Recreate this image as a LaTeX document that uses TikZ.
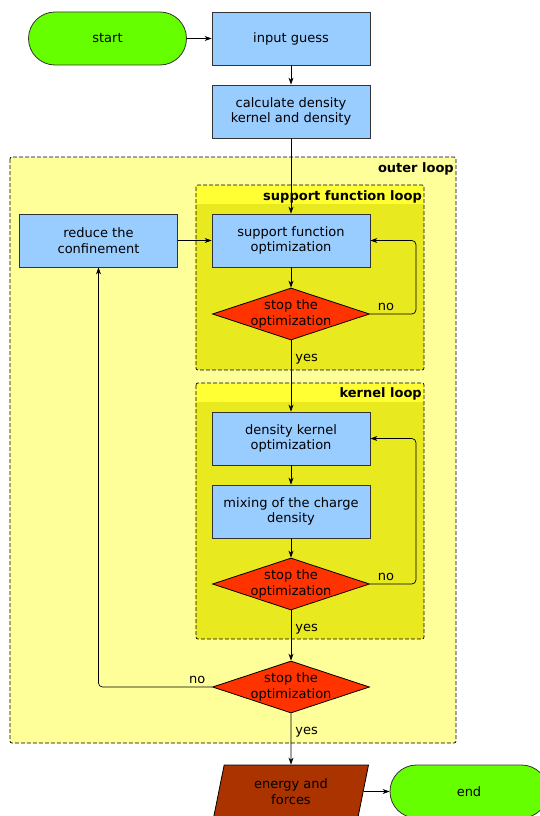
\documentclass[tikz,border=0pt]{standalone}
\usepackage{fontspec}
\setmainfont{DejaVu Sans}
\usetikzlibrary{shapes.geometric,arrows.meta}

\definecolor{termgreen}{HTML}{66FF00}
\definecolor{procblue}{HTML}{99CCFF}
\definecolor{decred}{HTML}{FF3300}
\definecolor{iobrown}{HTML}{AA3300}
\definecolor{outeryellow}{HTML}{FFFF99}
\definecolor{innerolive}{HTML}{E9E920}
\definecolor{stripyellow}{HTML}{FFFF33}
\definecolor{boxline}{HTML}{333333}

\tikzset{
  txt/.style={font=\fontsize{13pt}{15.5pt}\selectfont, align=center},
  process/.style={txt, draw=boxline, line width=0.8pt, fill=procblue,
    minimum width=158pt, minimum height=53pt, inner sep=2pt},
  terminal/.style={process, fill=termgreen, rounded corners=26.5pt},
  decision/.style={txt, diamond, aspect=3, draw, line width=0.8pt, fill=decred,
    minimum width=157pt, minimum height=52pt, inner sep=-4pt},
  iobox/.style={txt, trapezium, trapezium left angle=77, trapezium right angle=103,
    trapezium stretches=true, draw, line width=0.8pt, fill=iobrown,
    minimum width=156pt, minimum height=53pt, inner sep=0pt},
  loopframe/.style={draw, dash pattern=on 4pt off 2pt, line width=0.7pt, rounded corners=2pt},
  looplabel/.style={font=\fontsize{13pt}{15pt}\selectfont\bfseries, anchor=base east, inner sep=0pt},
  flow/.style={-{Stealth[length=7pt,width=5pt]}, line width=0.7pt},
  edgelabel/.style={font=\fontsize{13pt}{15pt}\selectfont, inner sep=0pt}
}

\begin{document}
\begin{tikzpicture}[x=1pt,y=-1pt]
	\useasboundingbox (0,0) rectangle (539,816);

	% loop frames
	\draw[loopframe, fill=outeryellow] (10,157) rectangle (456,743);
	\node[looplabel] (outerlbl) at (454,172) {outer loop};

	\fill[innerolive] (196,185) rectangle (424,370);
	\fill[stripyellow] (196,185) rectangle (424,204);
	\draw[loopframe] (196,185) rectangle (424,370);
	\node[looplabel] (sflbl) at (422,200) {support function loop};

	\fill[innerolive] (196,383) rectangle (424,639);
	\fill[stripyellow] (196,383) rectangle (424,402);
	\draw[loopframe] (196,383) rectangle (424,639);
	\node[looplabel] (klbl) at (422,397) {kernel loop};

	% nodes
	\node[terminal] (start) at (107.5,38.5) {start};
	\node[process] (guess) at (291,38.5) {input guess};
	\node[process] (calc) at (291,111.5) {calculate density\\kernel and density};
	\node[process] (reduce) at (98.5,240.5) {reduce the\\confinement};
	\node[process] (sfopt) at (291,240.5) {support function\\optimization};
	\node[decision] (stopsf) at (291,314) {stop the\\optimization};
	\node[process] (kopt) at (291,438.5) {density kernel\\optimization};
	\node[process] (mixing) at (291,511.5) {mixing of the charge\\density};
	\node[decision] (stopk) at (291,584) {stop the\\optimization};
	\node[decision] (stopout) at (291,687) {stop the\\optimization};
	\node[iobox] (energy) at (291,791.5) {energy and\\forces};
	\node[terminal] (end) at (469,791.5) {end};

	% connectors
	\draw[flow] (start) -- (guess);
	\draw[flow] (guess) -- (calc);
	\draw[flow] (calc) -- (sfopt);
	\draw[flow] (reduce) -- (sfopt);
	\draw[flow] (sfopt) -- (stopsf);
	\draw[flow, rounded corners=4pt] (stopsf.east) -- node[edgelabel, pos=0.35, anchor=south, yshift=3pt]{no} ++(46,0) |- (sfopt.east);
	\draw[flow] (stopsf.south) -- node[edgelabel, pos=0.29, anchor=base west, xshift=4pt]{yes} (kopt.north);
	\draw[flow] (kopt) -- (mixing);
	\draw[flow] (mixing) -- (stopk);
	\draw[flow, rounded corners=4pt] (stopk.east) -- node[edgelabel, pos=0.35, anchor=south, yshift=3pt]{no} ++(46,0) |- (kopt.east);
	\draw[flow] (stopk.south) -- node[edgelabel, pos=0.43, anchor=base west, xshift=4pt]{yes} (stopout.north);
	\draw[flow, rounded corners=4pt] (stopout.west) -| node[edgelabel, pos=0.065, anchor=south, yshift=3pt]{no} (reduce.south);
	\draw[flow] (stopout.south) -- node[edgelabel, pos=0.42, anchor=base west, xshift=4pt]{yes} (energy.north);
	\draw[flow] (energy) -- (end);
\end{tikzpicture}
\end{document}
